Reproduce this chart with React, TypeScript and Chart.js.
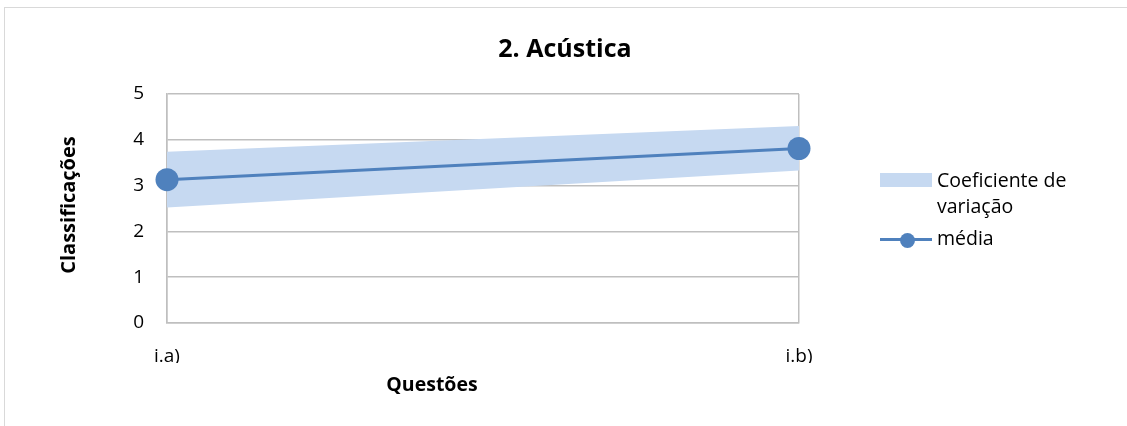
import React, { useEffect, useRef } from "react";
import { Chart, registerables } from "chart.js";

Chart.register(...registerables);

// Questions on the horizontal axis
const questions = ["i.a)", "i.b)"];
// Mean rating per question
const mediaValues = [3.13, 3.81];
// Coefficient-of-variation band (upper and lower edges)
const cvUpper = [3.74, 4.3];
const cvLower = [2.52, 3.33];
// Rating scale
const yMin = 0;
const yMax = 5;
const yStep = 1;

const FONT = "'Open Sans', Lato, sans-serif";
const LINE_BLUE = "#4f81bd";
const BAND_BLUE = "#c6d9f1";
const GRID_GREY = "#bfbfbf";

export default function App() {
  const canvasRef = useRef<HTMLCanvasElement | null>(null);

  useEffect(() => {
    const canvas = canvasRef.current;
    if (!canvas) return;
    const chart = new Chart(canvas, {
      type: "line",
      data: {
        labels: questions,
        datasets: [
          {
            label: "média",
            data: mediaValues,
            borderColor: LINE_BLUE,
            backgroundColor: LINE_BLUE,
            borderWidth: 3,
            pointRadius: 11.5,
            pointBackgroundColor: LINE_BLUE,
            pointBorderWidth: 0,
            fill: false,
            tension: 0,
            clip: false,
          },
          {
            label: "cv-lower",
            data: cvLower,
            borderWidth: 0,
            borderColor: "rgba(0,0,0,0)",
            pointRadius: 0,
            fill: false,
            tension: 0,
          },
          {
            label: "Coeficiente de variação",
            data: cvUpper,
            borderWidth: 0,
            borderColor: "rgba(0,0,0,0)",
            backgroundColor: BAND_BLUE,
            pointRadius: 0,
            fill: 1,
            tension: 0,
          },
        ],
      },
      options: {
        responsive: false,
        animation: false,
        events: [],
        layout: {
          padding: { left: 122, right: 328, top: 94, bottom: 63 },
        },
        plugins: {
          legend: { display: false },
          title: { display: false },
          tooltip: { enabled: false },
        },
        scales: {
          x: {
            type: "category",
            offset: false,
            afterFit: (scale: any) => {
              scale.height = 40;
            },
            grid: {
              color: GRID_GREY,
              lineWidth: 1.5,
              drawTicks: false,
            },
            border: { display: true, color: GRID_GREY, width: 1.5 },
            ticks: {
              color: "#000",
              font: { family: FONT, size: 19 },
              padding: 22,
            },
          },
          y: {
            min: yMin,
            max: yMax,
            afterFit: (scale: any) => {
              scale.width = 45;
            },
            grid: {
              color: GRID_GREY,
              lineWidth: 1.5,
              drawTicks: false,
            },
            border: { display: true, color: GRID_GREY, width: 1.5 },
            ticks: {
              stepSize: yStep,
              color: "#000",
              font: { family: FONT, size: 19 },
              padding: 23,
            },
          },
        },
      },
    });
    return () => chart.destroy();
  }, []);

  const text: React.CSSProperties = {
    position: "absolute",
    fontFamily: FONT,
    color: "#000",
    whiteSpace: "nowrap",
  };

  return (
    <div
      style={{
        position: "absolute",
        left: 0,
        top: 0,
        width: 1127,
        height: 426,
        overflow: "hidden",
        background: "#fff",
      }}
    >
      <div
        style={{
          position: "absolute",
          left: 4,
          top: 7,
          width: 1140,
          height: 440,
          border: "1px solid #d9d9d9",
        }}
      />
      <canvas
        ref={canvasRef}
        width={1127}
        height={426}
        style={{ position: "absolute", left: 0, top: 0, display: "block" }}
      />
      <div
        style={{
          ...text,
          left: 365,
          width: 400,
          top: 31,
          lineHeight: "32px",
          fontSize: 25,
          fontWeight: 700,
          textAlign: "center",
        }}
      >
        2. Acústica
      </div>
      <div
        style={{
          ...text,
          left: 68 - 100,
          top: 205 - 13,
          width: 200,
          lineHeight: "26px",
          fontSize: 20,
          fontWeight: 700,
          textAlign: "center",
          transform: "rotate(-90deg)",
        }}
      >
        Classificações
      </div>
      <div
        style={{
          ...text,
          left: 432 - 100,
          top: 384 - 13,
          width: 200,
          lineHeight: "26px",
          fontSize: 19.5,
          fontWeight: 700,
          textAlign: "center",
        }}
      >
        Questões
      </div>
      {/* Legend */}
      <div
        style={{
          position: "absolute",
          left: 880,
          top: 173,
          width: 52,
          height: 14,
          background: BAND_BLUE,
        }}
      />
      <div style={{ ...text, left: 937, top: 180 - 13, lineHeight: "26px", fontSize: 19.5 }}>
        Coeficiente de
      </div>
      <div style={{ ...text, left: 937, top: 206 - 13, lineHeight: "26px", fontSize: 19.5 }}>
        variação
      </div>
      <div
        style={{
          position: "absolute",
          left: 880,
          top: 238,
          width: 52,
          height: 3,
          background: LINE_BLUE,
        }}
      />
      <div
        style={{
          position: "absolute",
          left: 900,
          top: 232.5,
          width: 15,
          height: 15,
          borderRadius: "50%",
          background: LINE_BLUE,
        }}
      />
      <div style={{ ...text, left: 937, top: 238 - 13, lineHeight: "26px", fontSize: 19.5 }}>
        média
      </div>
    </div>
  );
}
